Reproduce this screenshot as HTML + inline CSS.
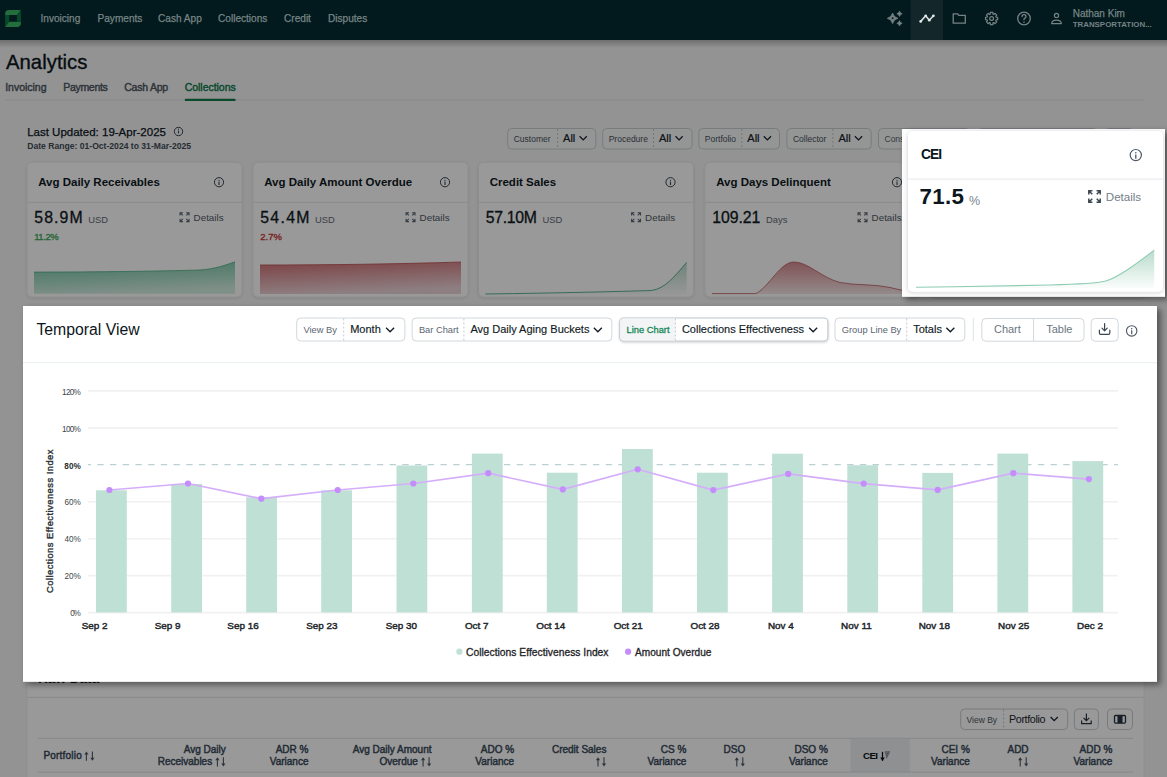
<!DOCTYPE html>
<html><head><meta charset="utf-8"><title>Analytics</title>
<style>
html,body{margin:0;padding:0;background:#959595;overflow:hidden;}
svg{display:block;font-family:"Liberation Sans",sans-serif;}
</style></head><body>
<svg width="1167" height="777" viewBox="0 0 1167 777">
<defs>
<linearGradient id="gGreen" x1="0" y1="0" x2="0.25" y2="1"><stop offset="0" stop-color="#6cc29f"/><stop offset="1" stop-color="#d2eee3"/></linearGradient>
<linearGradient id="gRed" x1="0" y1="0" x2="0.25" y2="1"><stop offset="0" stop-color="#cf6f73"/><stop offset="1" stop-color="#ecd3d8"/></linearGradient>
<linearGradient id="gLight" x1="0" y1="0" x2="0" y2="1"><stop offset="0" stop-color="#62b08e" stop-opacity="0.45"/><stop offset="1" stop-color="#62b08e" stop-opacity="0.03"/></linearGradient>
<linearGradient id="gRedL" x1="0" y1="0" x2="0" y2="1"><stop offset="0" stop-color="#d68a8e"/><stop offset="1" stop-color="#f6e6e8"/></linearGradient>
<linearGradient id="navSh" x1="0" y1="0" x2="0" y2="1"><stop offset="0" stop-color="#000" stop-opacity="0.25"/><stop offset="1" stop-color="#000" stop-opacity="0"/></linearGradient>
<filter id="shadow" x="-10%" y="-10%" width="120%" height="130%"><feDropShadow dx="0" dy="2" stdDeviation="4" flood-color="#000" flood-opacity="0.35"/></filter>
<filter id="popSh" x="-5%" y="-10%" width="110%" height="125%"><feDropShadow dx="3.5" dy="3" stdDeviation="3.2" flood-color="#000" flood-opacity="0.45"/></filter>
<filter id="ceiCard" x="-5%" y="-5%" width="110%" height="115%"><feDropShadow dx="0" dy="0.8" stdDeviation="2" flood-color="#1a2a3a" flood-opacity="0.2"/></filter>
<filter id="btnSh" x="-5%" y="-20%" width="110%" height="160%"><feDropShadow dx="0" dy="1" stdDeviation="0.8" flood-color="#000" flood-opacity="0.2"/></filter>
<filter id="cardSh" x="-10%" y="-10%" width="120%" height="130%"><feDropShadow dx="0" dy="1" stdDeviation="1.5" flood-color="#000" flood-opacity="0.12"/></filter>
</defs>
<rect x="0" y="0" width="1167" height="777" fill="#f6f6f6" />
<text x="6" y="68.5" font-size="20.3" fill="#0b1620" stroke="#0b1620" stroke-width="0.35" textLength="81.4" lengthAdjust="spacing" >Analytics</text>
<text x="5.2" y="91" font-size="10.5" fill="#4a5560" stroke="#4a5560" stroke-width="0.4" textLength="41.3" lengthAdjust="spacing" >Invoicing</text>
<text x="63.2" y="91" font-size="10.5" fill="#4a5560" stroke="#4a5560" stroke-width="0.4" textLength="44.6" lengthAdjust="spacing" >Payments</text>
<text x="124.2" y="91" font-size="10.5" fill="#4a5560" stroke="#4a5560" stroke-width="0.4" textLength="44" lengthAdjust="spacing" >Cash App</text>
<text x="184.7" y="91" font-size="10.5" fill="#0f7a4a" stroke="#0f7a4a" stroke-width="0.4" textLength="51" lengthAdjust="spacing" >Collections</text>
<line x1="5" y1="100" x2="1143.5" y2="100" stroke="#dfe3e6" stroke-width="1" />
<rect x="184.7" y="98.7" width="51" height="2.2" fill="#0f7a4a" rx="1" />
<text x="27.2" y="136" font-size="11.5" fill="#0c151d" stroke="#0c151d" stroke-width="0.25" >Last Updated: 19-Apr-2025</text>
<circle cx="178.5" cy="131.5" r="4.2" fill="none" stroke="#3a4550" stroke-width="1"/>
<path d="M178.5 130.6 v2.8" stroke="#3a4550" stroke-width="1.1"/><circle cx="178.5" cy="129.2" r="0.6" fill="#3a4550"/>
<text x="27.2" y="148.8" font-size="8.6" fill="#414b55" font-weight="bold" >Date Range: 01-Oct-2024 to 31-Mar-2025</text>
<rect x="507.7" y="128.5" width="88.09999999999997" height="20.5" fill="#f7f8f9" stroke="#c9ced3" stroke-width="1" rx="4" />
<line x1="557.6" y1="129" x2="557.6" y2="148.5" stroke="#bfc5ca" stroke-width="1" stroke-dasharray="2 2"/>
<text x="513.7" y="141.8" font-size="8.5" fill="#48525c" >Customer</text>
<text x="563.1" y="142.3" font-size="11" fill="#141e28" stroke="#141e28" stroke-width="0.2" >All</text>
<path d="M579.6 136.3 l3.6 3.6 l3.6 -3.6" fill="none" stroke="#1a242e" stroke-width="1.3"/>
<rect x="602.7" y="128.5" width="89.39999999999998" height="20.5" fill="#f7f8f9" stroke="#c9ced3" stroke-width="1" rx="4" />
<line x1="653.5" y1="129" x2="653.5" y2="148.5" stroke="#bfc5ca" stroke-width="1" stroke-dasharray="2 2"/>
<text x="608.7" y="141.8" font-size="8.5" fill="#48525c" >Procedure</text>
<text x="659.0" y="142.3" font-size="11" fill="#141e28" stroke="#141e28" stroke-width="0.2" >All</text>
<path d="M675.5 136.3 l3.6 3.6 l3.6 -3.6" fill="none" stroke="#1a242e" stroke-width="1.3"/>
<rect x="698.8" y="128.5" width="80.70000000000005" height="20.5" fill="#f7f8f9" stroke="#c9ced3" stroke-width="1" rx="4" />
<line x1="741.8" y1="129" x2="741.8" y2="148.5" stroke="#bfc5ca" stroke-width="1" stroke-dasharray="2 2"/>
<text x="704.8" y="141.8" font-size="8.5" fill="#48525c" >Portfolio</text>
<text x="747.3" y="142.3" font-size="11" fill="#141e28" stroke="#141e28" stroke-width="0.2" >All</text>
<path d="M763.8 136.3 l3.6 3.6 l3.6 -3.6" fill="none" stroke="#1a242e" stroke-width="1.3"/>
<rect x="786.9" y="128.5" width="84.30000000000007" height="20.5" fill="#f7f8f9" stroke="#c9ced3" stroke-width="1" rx="4" />
<line x1="832.9" y1="129" x2="832.9" y2="148.5" stroke="#bfc5ca" stroke-width="1" stroke-dasharray="2 2"/>
<text x="792.9" y="141.8" font-size="8.5" fill="#48525c" >Collector</text>
<text x="838.4" y="142.3" font-size="11" fill="#141e28" stroke="#141e28" stroke-width="0.2" >All</text>
<path d="M854.9 136.3 l3.6 3.6 l3.6 -3.6" fill="none" stroke="#1a242e" stroke-width="1.3"/>
<rect x="878.5" y="128.5" width="92" height="20.5" fill="#f7f8f9" stroke="#c9ced3" stroke-width="1" rx="4" />
<text x="884.5" y="141.8" font-size="8.5" fill="#5a6570" >Consolidated</text>
<rect x="977.5" y="128.5" width="120" height="20.5" fill="#f7f8f9" stroke="#c9ced3" stroke-width="1" rx="4" />
<rect x="1104.5" y="128.5" width="29" height="20.5" fill="#f7f8f9" stroke="#c9ced3" stroke-width="1" rx="4" />
<g filter="url(#cardSh)">
<rect x="27" y="162.3" width="215" height="134.7" fill="#ffffff" stroke="#e8eaed" stroke-width="0.8" rx="5" />
</g>
<text x="38.2" y="186.2" font-size="11.5" fill="#0f1a24" font-weight="bold" >Avg Daily Receivables</text>
<circle cx="219" cy="182.2" r="4.6" fill="none" stroke="#3a4550" stroke-width="1"/>
<path d="M219 181.6 v3.45" stroke="#3a4550" stroke-width="1.10"/><circle cx="219" cy="180.27" r="0.64" fill="#3a4550"/>
<line x1="27" y1="202.3" x2="242" y2="202.3" stroke="#e5e8eb" stroke-width="1" />
<text x="34.2" y="223.4" font-size="15.8" fill="#0f1a24" stroke="#0f1a24" stroke-width="0.3" textLength="48.5" lengthAdjust="spacing" >58.9M</text>
<text x="88.3" y="223.3" font-size="9.4" fill="#5f6a75" >USD</text>
<text x="34.2" y="239.7" font-size="9.5" fill="#40ad5c" stroke="#40ad5c" stroke-width="0.35" textLength="24.6" lengthAdjust="spacing" >11.2%</text>
<path d="M182.95 212.70 H180.10 V215.55 M180.10 212.70 L182.81 215.41" fill="none" stroke="#5a6570" stroke-width="1.1"/>
<path d="M186.15 212.70 H189.00 V215.55 M189.00 212.70 L186.29 215.41" fill="none" stroke="#5a6570" stroke-width="1.1"/>
<path d="M182.95 221.60 H180.10 V218.75 M180.10 221.60 L182.81 218.89" fill="none" stroke="#5a6570" stroke-width="1.1"/>
<path d="M186.15 221.60 H189.00 V218.75 M189.00 221.60 L186.29 218.89" fill="none" stroke="#5a6570" stroke-width="1.1"/>
<text x="193.6" y="221" font-size="9.8" fill="#4f5a65" textLength="30" lengthAdjust="spacing" >Details</text>
<g filter="url(#cardSh)">
<rect x="253" y="162.3" width="215" height="134.7" fill="#ffffff" stroke="#e8eaed" stroke-width="0.8" rx="5" />
</g>
<text x="264.2" y="186.2" font-size="11.5" fill="#0f1a24" font-weight="bold" >Avg Daily Amount Overdue</text>
<circle cx="445" cy="182.2" r="4.6" fill="none" stroke="#3a4550" stroke-width="1"/>
<path d="M445 181.6 v3.45" stroke="#3a4550" stroke-width="1.10"/><circle cx="445" cy="180.27" r="0.64" fill="#3a4550"/>
<line x1="253" y1="202.3" x2="468" y2="202.3" stroke="#e5e8eb" stroke-width="1" />
<text x="260.2" y="223.4" font-size="15.8" fill="#0f1a24" stroke="#0f1a24" stroke-width="0.3" textLength="49.3" lengthAdjust="spacing" >54.4M</text>
<text x="315.1" y="223.3" font-size="9.4" fill="#5f6a75" >USD</text>
<text x="260.2" y="239.7" font-size="9.5" fill="#c93c3a" stroke="#c93c3a" stroke-width="0.35" textLength="21.8" lengthAdjust="spacing" >2.7%</text>
<path d="M408.95 212.70 H406.10 V215.55 M406.10 212.70 L408.81 215.41" fill="none" stroke="#5a6570" stroke-width="1.1"/>
<path d="M412.15 212.70 H415.00 V215.55 M415.00 212.70 L412.29 215.41" fill="none" stroke="#5a6570" stroke-width="1.1"/>
<path d="M408.95 221.60 H406.10 V218.75 M406.10 221.60 L408.81 218.89" fill="none" stroke="#5a6570" stroke-width="1.1"/>
<path d="M412.15 221.60 H415.00 V218.75 M415.00 221.60 L412.29 218.89" fill="none" stroke="#5a6570" stroke-width="1.1"/>
<text x="419.6" y="221" font-size="9.8" fill="#4f5a65" textLength="30" lengthAdjust="spacing" >Details</text>
<g filter="url(#cardSh)">
<rect x="478.5" y="162.3" width="215" height="134.7" fill="#ffffff" stroke="#e8eaed" stroke-width="0.8" rx="5" />
</g>
<text x="489.7" y="186.2" font-size="11.5" fill="#0f1a24" font-weight="bold" >Credit Sales</text>
<circle cx="670.5" cy="182.2" r="4.6" fill="none" stroke="#3a4550" stroke-width="1"/>
<path d="M670.5 181.6 v3.45" stroke="#3a4550" stroke-width="1.10"/><circle cx="670.5" cy="180.27" r="0.64" fill="#3a4550"/>
<line x1="478.5" y1="202.3" x2="693.5" y2="202.3" stroke="#e5e8eb" stroke-width="1" />
<text x="485.7" y="223.4" font-size="15.8" fill="#0f1a24" stroke="#0f1a24" stroke-width="0.3" textLength="51.3" lengthAdjust="spacing" >57.10M</text>
<text x="542.6" y="223.3" font-size="9.4" fill="#5f6a75" >USD</text>
<path d="M634.45 212.70 H631.60 V215.55 M631.60 212.70 L634.31 215.41" fill="none" stroke="#5a6570" stroke-width="1.1"/>
<path d="M637.65 212.70 H640.50 V215.55 M640.50 212.70 L637.79 215.41" fill="none" stroke="#5a6570" stroke-width="1.1"/>
<path d="M634.45 221.60 H631.60 V218.75 M631.60 221.60 L634.31 218.89" fill="none" stroke="#5a6570" stroke-width="1.1"/>
<path d="M637.65 221.60 H640.50 V218.75 M640.50 221.60 L637.79 218.89" fill="none" stroke="#5a6570" stroke-width="1.1"/>
<text x="645.1" y="221" font-size="9.8" fill="#4f5a65" textLength="30" lengthAdjust="spacing" >Details</text>
<g filter="url(#cardSh)">
<rect x="705" y="162.3" width="215" height="134.7" fill="#ffffff" stroke="#e8eaed" stroke-width="0.8" rx="5" />
</g>
<text x="716.2" y="186.2" font-size="11.5" fill="#0f1a24" font-weight="bold" >Avg Days Delinquent</text>
<circle cx="897" cy="182.2" r="4.6" fill="none" stroke="#3a4550" stroke-width="1"/>
<path d="M897 181.6 v3.45" stroke="#3a4550" stroke-width="1.10"/><circle cx="897" cy="180.27" r="0.64" fill="#3a4550"/>
<line x1="705" y1="202.3" x2="920" y2="202.3" stroke="#e5e8eb" stroke-width="1" />
<text x="712.2" y="223.4" font-size="15.8" fill="#0f1a24" stroke="#0f1a24" stroke-width="0.3" textLength="48.2" lengthAdjust="spacing" >109.21</text>
<text x="766.0000000000001" y="223.3" font-size="9.4" fill="#5f6a75" >Days</text>
<path d="M860.95 212.70 H858.10 V215.55 M858.10 212.70 L860.81 215.41" fill="none" stroke="#5a6570" stroke-width="1.1"/>
<path d="M864.15 212.70 H867.00 V215.55 M867.00 212.70 L864.29 215.41" fill="none" stroke="#5a6570" stroke-width="1.1"/>
<path d="M860.95 221.60 H858.10 V218.75 M858.10 221.60 L860.81 218.89" fill="none" stroke="#5a6570" stroke-width="1.1"/>
<path d="M864.15 221.60 H867.00 V218.75 M867.00 221.60 L864.29 218.89" fill="none" stroke="#5a6570" stroke-width="1.1"/>
<text x="871.6" y="221" font-size="9.8" fill="#4f5a65" textLength="30" lengthAdjust="spacing" >Details</text>
<g filter="url(#cardSh)">
<rect x="931" y="162.3" width="215" height="134.7" fill="#ffffff" stroke="#e8eaed" stroke-width="0.8" rx="5" />
</g>
<text x="942.2" y="186.2" font-size="11.5" fill="#0f1a24" font-weight="bold" >CEI</text>
<circle cx="1123" cy="182.2" r="4.6" fill="none" stroke="#3a4550" stroke-width="1"/>
<path d="M1123 181.6 v3.45" stroke="#3a4550" stroke-width="1.10"/><circle cx="1123" cy="180.27" r="0.64" fill="#3a4550"/>
<line x1="931" y1="202.3" x2="1146" y2="202.3" stroke="#e5e8eb" stroke-width="1" />
<text x="938.2" y="223.4" font-size="15.8" fill="#0f1a24" stroke="#0f1a24" stroke-width="0.3" textLength="36" lengthAdjust="spacing" >71.5</text>
<text x="979.8000000000001" y="223.3" font-size="9.4" fill="#5f6a75" >%</text>
<path d="M1086.95 212.70 H1084.10 V215.55 M1084.10 212.70 L1086.81 215.41" fill="none" stroke="#5a6570" stroke-width="1.1"/>
<path d="M1090.15 212.70 H1093.00 V215.55 M1093.00 212.70 L1090.29 215.41" fill="none" stroke="#5a6570" stroke-width="1.1"/>
<path d="M1086.95 221.60 H1084.10 V218.75 M1084.10 221.60 L1086.81 218.89" fill="none" stroke="#5a6570" stroke-width="1.1"/>
<path d="M1090.15 221.60 H1093.00 V218.75 M1093.00 221.60 L1090.29 218.89" fill="none" stroke="#5a6570" stroke-width="1.1"/>
<text x="1097.6" y="221" font-size="9.8" fill="#4f5a65" textLength="30" lengthAdjust="spacing" >Details</text>
<path d="M34 272.1 C 100 272, 160 271.2, 200 270 C 215 269, 226 265, 235 261.8 L235 293.7 L34 293.7 Z" fill="url(#gGreen)"/>
<path d="M34 272.1 C 100 272, 160 271.2, 200 270 C 215 269, 226 265, 235 261.8" fill="none" stroke="#4fae88" stroke-width="0.8"/>
<path d="M260 265 C 330 265, 400 264, 461 262 L461 294 L260 294 Z" fill="url(#gRed)"/>
<path d="M260 265 C 330 265, 400 264, 461 262" fill="none" stroke="#c05a5e" stroke-width="0.9"/>
<path d="M485.4 294 C 560 293, 620 291.5, 651.3 290.5 C 665 289, 675 276, 686.7 262.3 L686.7 294.2 L485.4 294.2 Z" fill="url(#gLight)"/>
<path d="M485.4 294 C 560 293, 620 291.5, 651.3 290.5 C 665 289, 675 276, 686.7 262.3" fill="none" stroke="#4aa884" stroke-width="0.9"/>
<path d="M712 293.6 L756 293.6 C 770 286, 780 262, 794 262 C 808 262, 822 278, 840 282.5 C 855 285.5, 875 284, 890 287.5 C 898 289.5, 905 291, 920 293.5 L920 294 L712 294 Z" fill="url(#gRedL)"/>
<path d="M712 293.6 L756 293.6 C 770 286, 780 262, 794 262 C 808 262, 822 278, 840 282.5 C 855 285.5, 875 284, 890 287.5 C 898 289.5, 905 291, 920 293.5" fill="none" stroke="#b85a5e" stroke-width="0.8"/>
<rect x="26.8" y="665" width="1117.3" height="130" fill="#ffffff" stroke="#e8eaed" stroke-width="0.8" rx="5" />
<text x="38" y="683" font-size="13.6" fill="#0f1a24" font-weight="bold" >Raw Data</text>
<line x1="26.8" y1="697.3" x2="1144" y2="697.3" stroke="#e3e6e9" stroke-width="1" />
<rect x="960.7" y="709" width="107" height="20.6" fill="#ffffff" stroke="#c9ced3" stroke-width="1" rx="4" />
<line x1="1003.6" y1="709.5" x2="1003.6" y2="729" stroke="#bfc5ca" stroke-width="1" stroke-dasharray="2 2"/>
<text x="966.5" y="722.5" font-size="8.5" fill="#4a5560" >View By</text>
<text x="1009" y="723" font-size="10.8" fill="#1a242e" textLength="36.4" lengthAdjust="spacing" >Portfolio</text>
<path d="M1050.6 717 l3.6 3.6 l3.6 -3.6" fill="none" stroke="#1a242e" stroke-width="1.3"/>
<rect x="1074.4" y="709" width="24" height="20.6" fill="#ffffff" stroke="#c9ced3" stroke-width="1" rx="4" />
<path d="M1086.4 713.5 v7 M1083.5 717.8 l2.9 2.9 l2.9 -2.9 M1081.6 720.5 v3.2 h9.6 v-3.2" fill="none" stroke="#2a3540" stroke-width="1.2"/>
<rect x="1107.5" y="709" width="25" height="20.6" fill="#ffffff" stroke="#c9ced3" stroke-width="1" rx="4" />
<rect x="1114.5" y="715.5" width="11" height="7.6" fill="none" stroke="#2a3540" stroke-width="1.3" rx="1" />
<rect x="1117.5" y="715.5" width="5" height="7.6" fill="#2a3540" />
<line x1="37.9" y1="738.3" x2="1133" y2="738.3" stroke="#dde1e5" stroke-width="1" />
<rect x="850.5" y="738.8" width="59.3" height="33" fill="#eef0f2" />
<line x1="37.9" y1="772.1" x2="1133" y2="772.1" stroke="#dde1e5" stroke-width="1" />
<text x="43.4" y="758.9" font-size="10" fill="#3b4b5c" stroke="#3b4b5c" stroke-width="0.45" textLength="38.3" lengthAdjust="spacing" >Portfolio</text>
<path d="M86.39999999999999 753.1 V760.8" stroke="#4d5863" stroke-width="1.1"/>
<path d="M84.3 754.6 L86.39999999999999 751.6 L88.49999999999999 754.6 Z" fill="#4d5863"/>
<path d="M92.39999999999999 751.6 V759.3" stroke="#4d5863" stroke-width="1.1"/>
<path d="M90.3 757.8 L92.39999999999999 760.8 L94.49999999999999 757.8 Z" fill="#4d5863"/>
<text x="225.8" y="752.9" font-size="10" fill="#3b4b5c" stroke="#3b4b5c" stroke-width="0.45" text-anchor="end" >Avg Daily</text>
<text x="212.20000000000002" y="764.5" font-size="10" fill="#3b4b5c" stroke="#3b4b5c" stroke-width="0.45" text-anchor="end" >Receivables</text>
<path d="M217.4 758.7 V766.4" stroke="#4d5863" stroke-width="1.1"/>
<path d="M215.3 760.2 L217.4 757.2 L219.5 760.2 Z" fill="#4d5863"/>
<path d="M223.4 757.2 V764.9" stroke="#4d5863" stroke-width="1.1"/>
<path d="M221.3 763.4 L223.4 766.4 L225.5 763.4 Z" fill="#4d5863"/>
<text x="308.5" y="752.9" font-size="10" fill="#3b4b5c" stroke="#3b4b5c" stroke-width="0.45" text-anchor="end" >ADR %</text>
<text x="308.5" y="764.5" font-size="10" fill="#3b4b5c" stroke="#3b4b5c" stroke-width="0.45" text-anchor="end" >Variance</text>
<text x="431.5" y="752.9" font-size="10" fill="#3b4b5c" stroke="#3b4b5c" stroke-width="0.45" text-anchor="end" >Avg Daily Amount</text>
<text x="417.9" y="764.5" font-size="10" fill="#3b4b5c" stroke="#3b4b5c" stroke-width="0.45" text-anchor="end" >Overdue</text>
<path d="M423.1 758.7 V766.4" stroke="#4d5863" stroke-width="1.1"/>
<path d="M421.0 760.2 L423.1 757.2 L425.20000000000005 760.2 Z" fill="#4d5863"/>
<path d="M429.1 757.2 V764.9" stroke="#4d5863" stroke-width="1.1"/>
<path d="M427.0 763.4 L429.1 766.4 L431.20000000000005 763.4 Z" fill="#4d5863"/>
<text x="514.1" y="752.9" font-size="10" fill="#3b4b5c" stroke="#3b4b5c" stroke-width="0.45" text-anchor="end" >ADO %</text>
<text x="514.1" y="764.5" font-size="10" fill="#3b4b5c" stroke="#3b4b5c" stroke-width="0.45" text-anchor="end" >Variance</text>
<text x="606.4" y="752.9" font-size="10" fill="#3b4b5c" stroke="#3b4b5c" stroke-width="0.45" text-anchor="end" >Credit Sales</text>
<path d="M598.0 758.7 V766.4" stroke="#4d5863" stroke-width="1.1"/>
<path d="M595.9 760.2 L598.0 757.2 L600.1 760.2 Z" fill="#4d5863"/>
<path d="M604.0 757.2 V764.9" stroke="#4d5863" stroke-width="1.1"/>
<path d="M601.9 763.4 L604.0 766.4 L606.1 763.4 Z" fill="#4d5863"/>
<text x="686.3" y="752.9" font-size="10" fill="#3b4b5c" stroke="#3b4b5c" stroke-width="0.45" text-anchor="end" >CS %</text>
<text x="686.3" y="764.5" font-size="10" fill="#3b4b5c" stroke="#3b4b5c" stroke-width="0.45" text-anchor="end" >Variance</text>
<text x="745.2" y="752.9" font-size="10" fill="#3b4b5c" stroke="#3b4b5c" stroke-width="0.45" text-anchor="end" >DSO</text>
<path d="M736.8000000000001 758.7 V766.4" stroke="#4d5863" stroke-width="1.1"/>
<path d="M734.7 760.2 L736.8000000000001 757.2 L738.9000000000001 760.2 Z" fill="#4d5863"/>
<path d="M742.8000000000001 757.2 V764.9" stroke="#4d5863" stroke-width="1.1"/>
<path d="M740.7 763.4 L742.8000000000001 766.4 L744.9000000000001 763.4 Z" fill="#4d5863"/>
<text x="827.8" y="752.9" font-size="10" fill="#3b4b5c" stroke="#3b4b5c" stroke-width="0.45" text-anchor="end" >DSO %</text>
<text x="827.8" y="764.5" font-size="10" fill="#3b4b5c" stroke="#3b4b5c" stroke-width="0.45" text-anchor="end" >Variance</text>
<text x="969.8" y="752.9" font-size="10" fill="#3b4b5c" stroke="#3b4b5c" stroke-width="0.45" text-anchor="end" >CEI %</text>
<text x="969.8" y="764.5" font-size="10" fill="#3b4b5c" stroke="#3b4b5c" stroke-width="0.45" text-anchor="end" >Variance</text>
<text x="1028.6" y="752.9" font-size="10" fill="#3b4b5c" stroke="#3b4b5c" stroke-width="0.45" text-anchor="end" >ADD</text>
<path d="M1020.1999999999999 758.7 V766.4" stroke="#4d5863" stroke-width="1.1"/>
<path d="M1018.0999999999999 760.2 L1020.1999999999999 757.2 L1022.3 760.2 Z" fill="#4d5863"/>
<path d="M1026.1999999999998 757.2 V764.9" stroke="#4d5863" stroke-width="1.1"/>
<path d="M1024.1 763.4 L1026.1999999999998 766.4 L1028.2999999999997 763.4 Z" fill="#4d5863"/>
<text x="1112.3" y="752.9" font-size="10" fill="#3b4b5c" stroke="#3b4b5c" stroke-width="0.45" text-anchor="end" >ADD %</text>
<text x="1112.3" y="764.5" font-size="10" fill="#3b4b5c" stroke="#3b4b5c" stroke-width="0.45" text-anchor="end" >Variance</text>
<text x="863" y="759" font-size="9.6" fill="#0b1218" textLength="14.9" lengthAdjust="spacing" font-weight="bold" >CEI</text>
<path d="M882.5 751.8 V760.8" stroke="#0b1218" stroke-width="1.25"/><path d="M880.2 757.5 L882.5 761 L884.8 757.5 Z" fill="#0b1218"/>
<path d="M884.8 752 H890 M885.3 753.9 H889.2 M885.8 755.8 H888.2 M886.3 757.6 H887.2" stroke="#5a636b" stroke-width="1.2"/>
<rect x="0" y="0" width="1167" height="777" fill="#000" fill-opacity="0.4"/>
<rect x="0" y="40" width="1167" height="8" fill="url(#navSh)" />
<rect x="0" y="0" width="1167" height="40" fill="#02191d" />
<path d="M5.2 15.1 V13.6 Q5.2 10 9 10 H20.9 L17 15.1 Z" fill="#236e3c"/>
<path d="M5.2 15.1 H9.2 V21.7 L5.2 26.9 Z" fill="#064b29"/>
<path d="M5.2 26.9 L9.2 21.7 H20.9 V23.3 Q20.9 26.9 17.1 26.9 Z" fill="#236e3c"/>
<path d="M17 15.1 L20.9 10 V21.7 H17 Z" fill="#064b29"/>
<text x="40.5" y="22" font-size="10.1" fill="#778586" stroke="#778586" stroke-width="0.25" >Invoicing</text>
<text x="97.5" y="22" font-size="10.1" fill="#778586" stroke="#778586" stroke-width="0.25" >Payments</text>
<text x="158" y="22" font-size="10.1" fill="#778586" stroke="#778586" stroke-width="0.25" >Cash App</text>
<text x="218" y="22" font-size="10.1" fill="#778586" stroke="#778586" stroke-width="0.25" >Collections</text>
<text x="284" y="22" font-size="10.1" fill="#778586" stroke="#778586" stroke-width="0.25" >Credit</text>
<text x="328" y="22" font-size="10.1" fill="#778586" stroke="#778586" stroke-width="0.25" >Disputes</text>
<rect x="910.7" y="0" width="32.4" height="40" fill="#13272b" />
<path d="M892.6 13.0 Q893.66 17.240000000000002 897.9 18.3 Q893.66 19.36 892.6 23.6 Q891.5400000000001 19.36 887.3000000000001 18.3 Q891.5400000000001 17.240000000000002 892.6 13.0Z" fill="#768384" stroke="#768384" stroke-width="0.8" stroke-linejoin="round"/>
<circle cx="892.6" cy="18.3" r="1" fill="#02191d"/>
<path d="M899.5 11.100000000000001 Q900.04 13.260000000000002 902.2 13.8 Q900.04 14.34 899.5 16.5 Q898.96 14.34 896.8 13.8 Q898.96 13.260000000000002 899.5 11.100000000000001Z" fill="#768384" stroke="#768384" stroke-width="0.6" stroke-linejoin="round"/>
<path d="M899.5 20.6 Q900.04 22.76 902.2 23.3 Q900.04 23.84 899.5 26.0 Q898.96 23.84 896.8 23.3 Q898.96 22.76 899.5 20.6Z" fill="#768384" stroke="#768384" stroke-width="0.6" stroke-linejoin="round"/>
<path d="M920.7 21.4 L925.7 15.8 L929.3 20.2 L933.4 15.8" fill="none" stroke="#d9dfdf" stroke-width="1.6" stroke-linecap="round" stroke-linejoin="round"/>
<circle cx="920.7" cy="21.4" r="1.35" fill="#e3e8e8"/>
<circle cx="925.7" cy="15.8" r="1.35" fill="#e3e8e8"/>
<circle cx="929.3" cy="20.2" r="1.35" fill="#e3e8e8"/>
<circle cx="933.4" cy="15.8" r="1.35" fill="#e3e8e8"/>
<path d="M953.2 13.8 h4.3 l1.4 1.6 h6.4 v7.8 h-12.1z" fill="none" stroke="#768384" stroke-width="1.3" stroke-linejoin="round"/>
<circle cx="991.6" cy="18.5" r="1.9" fill="none" stroke="#768384" stroke-width="1.2"/>
<path d="M995.99 17.14 L997.68 17.27 L997.68 19.73 L995.99 19.86 L995.67 20.65 L996.77 21.93 L995.03 23.67 L993.75 22.57 L992.96 22.89 L992.83 24.58 L990.37 24.58 L990.24 22.89 L989.45 22.57 L988.17 23.67 L986.43 21.93 L987.53 20.65 L987.21 19.86 L985.52 19.73 L985.52 17.27 L987.21 17.14 L987.53 16.35 L986.43 15.07 L988.17 13.33 L989.45 14.43 L990.24 14.11 L990.37 12.42 L992.83 12.42 L992.96 14.11 L993.75 14.43 L995.03 13.33 L996.77 15.07 L995.67 16.35Z" fill="none" stroke="#768384" stroke-width="1.2" stroke-linejoin="round"/>
<circle cx="1024" cy="18.5" r="6.3" fill="none" stroke="#768384" stroke-width="1.3"/>
<path d="M1022 16.6 q0-2 2-2 q2 0 2 1.8 q0 1.2-1.3 1.7 q-0.7 0.3-0.7 1.2 v0.5" fill="none" stroke="#768384" stroke-width="1.3" stroke-linecap="round"/>
<circle cx="1024" cy="22.3" r="0.8" fill="#768384"/>
<circle cx="1056.5" cy="15.4" r="2.1" fill="none" stroke="#768384" stroke-width="1.2"/>
<path d="M1051.6 23.6 q0.4-3.4 4.9-3.4 q4.5 0 4.9 3.4 z" fill="none" stroke="#768384" stroke-width="1.2" stroke-linejoin="round"/>
<text x="1072.7" y="16.5" font-size="10" fill="#778586" stroke="#778586" stroke-width="0.25" >Nathan Kim</text>
<text x="1072.7" y="27.4" font-size="7.9" fill="#748283" font-weight="bold" >TRANSPORTATION...</text>
<g filter="url(#popSh)">
<rect x="902" y="129" width="263" height="167.8" fill="#fdfdfd" />
</g>
<g filter="url(#ceiCard)">
<rect x="908" y="131" width="255" height="160.7" fill="#ffffff" rx="5" />
</g>
<text x="921" y="159.4" font-size="13.8" fill="#0b1620" textLength="21.2" lengthAdjust="spacing" font-weight="bold" >CEI</text>
<circle cx="1135.8" cy="155.1" r="5.6" fill="none" stroke="#4a5a6a" stroke-width="1.2"/>
<path d="M1135.8 154.5 v4.20" stroke="#4a5a6a" stroke-width="1.32"/><circle cx="1135.8" cy="152.75" r="0.78" fill="#4a5a6a"/>
<line x1="908" y1="179.1" x2="1163" y2="179.1" stroke="#e4e7ea" stroke-width="1" />
<text x="919.6" y="204" font-size="22.3" fill="#0b1620" textLength="44.2" lengthAdjust="spacing" font-weight="bold" >71.5</text>
<text x="969" y="204.5" font-size="12.5" fill="#7a8590" >%</text>
<path d="M1092.45 190.80 H1088.80 V194.45 M1088.80 190.80 L1092.27 194.27" fill="none" stroke="#3d4853" stroke-width="1.5"/>
<path d="M1096.55 190.80 H1100.20 V194.45 M1100.20 190.80 L1096.73 194.27" fill="none" stroke="#3d4853" stroke-width="1.5"/>
<path d="M1092.45 202.20 H1088.80 V198.55 M1088.80 202.20 L1092.27 198.73" fill="none" stroke="#3d4853" stroke-width="1.5"/>
<path d="M1096.55 202.20 H1100.20 V198.55 M1100.20 202.20 L1096.73 198.73" fill="none" stroke="#3d4853" stroke-width="1.5"/>
<text x="1105.8" y="200.6" font-size="11.6" fill="#737e89" textLength="35.3" lengthAdjust="spacing" >Details</text>
<path d="M916 286.9 C 960 286.8, 1000 286.2, 1050 285 C 1080 284.2, 1097 283.2, 1105 281.3 C 1111 279.8, 1117 276.5, 1127 270 C 1137 263.5, 1146 256.5, 1154.2 250.1 L1154.2 288 L916 288 Z" fill="url(#gLight)"/>
<path d="M916 287.2 C 960 286.8, 1000 286.2, 1050 285 C 1080 284.2, 1097 283.2, 1105 281.3 C 1111 279.8, 1117 276.5, 1127 270 C 1137 263.5, 1146 256.5, 1154.2 250.1" fill="none" stroke="#8fcdb3" stroke-width="1.1"/>
<g filter="url(#popSh)">
<rect x="23" y="306" width="1134" height="375.8" fill="#ffffff" />
</g>
<text x="36.4" y="335" font-size="15.8" fill="#0b1620" >Temporal View</text>
<line x1="23" y1="362.7" x2="1157" y2="362.7" stroke="#eef1f1" stroke-width="1.2" />
<rect x="296.7" y="318" width="108.19999999999999" height="23" fill="#ffffff" stroke="#d3d8dc" stroke-width="1" rx="4" />
<line x1="343.7" y1="318.5" x2="343.7" y2="340.5" stroke="#c5cbd0" stroke-width="1" stroke-dasharray="2 2"/>
<text x="303.5" y="332.7" font-size="9.3" fill="#5a6570" >View By</text>
<text x="350.2" y="333.2" font-size="11" fill="#0f1a24" stroke="#0f1a24" stroke-width="0.15" >Month</text>
<rect x="412.1" y="318" width="199.79999999999995" height="23" fill="#ffffff" stroke="#d3d8dc" stroke-width="1" rx="4" />
<line x1="463.9" y1="318.5" x2="463.9" y2="340.5" stroke="#c5cbd0" stroke-width="1" stroke-dasharray="2 2"/>
<text x="418.90000000000003" y="332.7" font-size="9.3" fill="#5a6570" >Bar Chart</text>
<text x="470.4" y="333.2" font-size="11" fill="#0f1a24" stroke="#0f1a24" stroke-width="0.15" >Avg Daily Aging Buckets</text>
<g filter="url(#btnSh)">
<rect x="619.8" y="318" width="208.10000000000002" height="23" fill="#ffffff" stroke="#bfc6cc" stroke-width="1.1" rx="4" />
</g>
<path d="M623.8 318.5 H675.4 V340.5 H623.8 Q620.3 340.5 620.3 337 V322 Q620.3 318.5 623.8 318.5Z" fill="#f3f4f5"/>
<line x1="675.4" y1="318.5" x2="675.4" y2="340.5" stroke="#c5cbd0" stroke-width="1" stroke-dasharray="2 2"/>
<text x="626.5999999999999" y="332.7" font-size="9.3" fill="#168858" stroke="#168858" stroke-width="0.3" >Line Chart</text>
<text x="681.9" y="333.2" font-size="11" fill="#0f1a24" stroke="#0f1a24" stroke-width="0.15" >Collections Effectiveness</text>
<rect x="835.0" y="318" width="129.79999999999995" height="23" fill="#ffffff" stroke="#d3d8dc" stroke-width="1" rx="4" />
<line x1="906.7" y1="318.5" x2="906.7" y2="340.5" stroke="#c5cbd0" stroke-width="1" stroke-dasharray="2 2"/>
<text x="841.8" y="332.7" font-size="9.3" fill="#5a6570" >Group Line By</text>
<text x="913.2" y="333.2" font-size="11" fill="#0f1a24" stroke="#0f1a24" stroke-width="0.15" >Totals</text>
<path d="M386.1 327.8 l4 4 l4 -4" fill="none" stroke="#0f1a24" stroke-width="1.3"/>
<path d="M593.85 327.8 l4 4 l4 -4" fill="none" stroke="#0f1a24" stroke-width="1.3"/>
<path d="M809.15 327.8 l4 4 l4 -4" fill="none" stroke="#0f1a24" stroke-width="1.3"/>
<path d="M946.35 327.8 l4 4 l4 -4" fill="none" stroke="#0f1a24" stroke-width="1.3"/>
<line x1="973.3" y1="318" x2="973.3" y2="341" stroke="#dfe3e6" stroke-width="1" />
<rect x="981.8" y="318.5" width="102.2" height="22.7" fill="#ffffff" stroke="#d3d8dc" stroke-width="1" rx="4" />
<line x1="1033.6" y1="318.5" x2="1033.6" y2="341.2" stroke="#d3d8dc" stroke-width="1" />
<text x="1007.4" y="333.1" font-size="11" fill="#6b7680" text-anchor="middle" >Chart</text>
<text x="1059.3" y="333.1" font-size="11" fill="#6b7680" text-anchor="middle" >Table</text>
<rect x="1091.2" y="318.5" width="27" height="22.7" fill="#ffffff" stroke="#d3d8dc" stroke-width="1" rx="4" />
<path d="M1104.6 323.6 v7 M1102 328.2 l2.6 2.6 l2.6 -2.6 M1099.4 330.2 v2.8 q0 1.3 1.3 1.3 h7.8 q1.3 0 1.3 -1.3 v-2.8" fill="none" stroke="#3a4550" stroke-width="1.2" stroke-linecap="round" stroke-linejoin="round"/>
<circle cx="1131.7" cy="330.9" r="5.2" fill="none" stroke="#4a5560" stroke-width="1.1"/>
<path d="M1131.7 330.29999999999995 v3.90" stroke="#4a5560" stroke-width="1.21"/><circle cx="1131.7" cy="328.72" r="0.73" fill="#4a5560"/>
<line x1="88" y1="612.6" x2="1118" y2="612.6" stroke="#f1f1f1" stroke-width="1.6" />
<line x1="88" y1="575.6500000000001" x2="1118" y2="575.6500000000001" stroke="#f1f1f1" stroke-width="1.6" />
<line x1="88" y1="538.7" x2="1118" y2="538.7" stroke="#f1f1f1" stroke-width="1.6" />
<line x1="88" y1="501.75" x2="1118" y2="501.75" stroke="#f1f1f1" stroke-width="1.6" />
<line x1="88" y1="427.84999999999997" x2="1118" y2="427.84999999999997" stroke="#f1f1f1" stroke-width="1.6" />
<line x1="88" y1="390.9" x2="1118" y2="390.9" stroke="#f1f1f1" stroke-width="1.6" />
<text x="80.9" y="616.3" font-size="8.2" fill="#41474c" textLength="10.6" lengthAdjust="spacing" text-anchor="end" >0%</text>
<text x="80.9" y="579.3499999999999" font-size="8.2" fill="#41474c" textLength="16.4" lengthAdjust="spacing" text-anchor="end" >20%</text>
<text x="80.9" y="542.4" font-size="8.2" fill="#41474c" textLength="16.4" lengthAdjust="spacing" text-anchor="end" >40%</text>
<text x="80.9" y="505.44999999999993" font-size="8.2" fill="#41474c" textLength="16.4" lengthAdjust="spacing" text-anchor="end" >60%</text>
<text x="80.9" y="468.49999999999994" font-size="8.2" fill="#2a2f33" textLength="16.6" lengthAdjust="spacing" font-weight="bold" text-anchor="end" >80%</text>
<text x="80.9" y="431.54999999999995" font-size="8.2" fill="#41474c" textLength="18.8" lengthAdjust="spacing" text-anchor="end" >100%</text>
<text x="80.9" y="394.5999999999999" font-size="8.2" fill="#41474c" textLength="18.8" lengthAdjust="spacing" text-anchor="end" >120%</text>
<text x="0" y="0" font-size="9.4" fill="#2a2f33" stroke="#2a2f33" stroke-width="0.35" textLength="143.5" lengthAdjust="spacing" text-anchor="middle" transform="translate(53.2 521.3) rotate(-90)">Collections Effectiveness Index</text>
<line x1="88" y1="464.6" x2="1118" y2="464.6" stroke="#b9d1d2" stroke-width="1.25" stroke-dasharray="6.355 6.355" stroke-dashoffset="3.41"/>
<rect x="96" y="490.3" width="30.8" height="122.1" fill="#bfe0d4" />
<rect x="171.2" y="483.9" width="30.8" height="128.5" fill="#bfe0d4" />
<rect x="246.2" y="497.3" width="30.8" height="115.1" fill="#bfe0d4" />
<rect x="321.2" y="490.3" width="30.8" height="122.1" fill="#bfe0d4" />
<rect x="396.5" y="465.5" width="30.8" height="146.9" fill="#bfe0d4" />
<rect x="471.9" y="453.6" width="30.8" height="158.8" fill="#bfe0d4" />
<rect x="546.8" y="472.7" width="30.8" height="139.7" fill="#bfe0d4" />
<rect x="622" y="449.0" width="30.8" height="163.4" fill="#bfe0d4" />
<rect x="697" y="472.7" width="30.8" height="139.7" fill="#bfe0d4" />
<rect x="772.1" y="453.7" width="30.8" height="158.7" fill="#bfe0d4" />
<rect x="847.3" y="465.2" width="30.8" height="147.2" fill="#bfe0d4" />
<rect x="922.3" y="472.9" width="30.8" height="139.5" fill="#bfe0d4" />
<rect x="997.4" y="453.6" width="30.8" height="158.8" fill="#bfe0d4" />
<rect x="1072.4" y="461.1" width="30.8" height="151.3" fill="#bfe0d4" />
<path d="M109.4 490.0 L188.0 483.5 L261.3 498.7 L337.7 490.0 L413.3 483.5 L488.2 473.2 L562.8 489.4 L637.7 469.3 L713.3 490.1 L788.2 473.9 L863.7 483.6 L937.7 489.9 L1013.3 473.2 L1088.9 479.1" fill="none" stroke="#d4aefa" stroke-width="1.7" stroke-linejoin="round"/>
<circle cx="109.4" cy="490.0" r="3.1" fill="#c48dfb"/>
<circle cx="188.0" cy="483.5" r="3.1" fill="#c48dfb"/>
<circle cx="261.3" cy="498.7" r="3.1" fill="#c48dfb"/>
<circle cx="337.7" cy="490.0" r="3.1" fill="#c48dfb"/>
<circle cx="413.3" cy="483.5" r="3.1" fill="#c48dfb"/>
<circle cx="488.2" cy="473.2" r="3.1" fill="#c48dfb"/>
<circle cx="562.8" cy="489.4" r="3.1" fill="#c48dfb"/>
<circle cx="637.7" cy="469.3" r="3.1" fill="#c48dfb"/>
<circle cx="713.3" cy="490.1" r="3.1" fill="#c48dfb"/>
<circle cx="788.2" cy="473.9" r="3.1" fill="#c48dfb"/>
<circle cx="863.7" cy="483.6" r="3.1" fill="#c48dfb"/>
<circle cx="937.7" cy="489.9" r="3.1" fill="#c48dfb"/>
<circle cx="1013.3" cy="473.2" r="3.1" fill="#c48dfb"/>
<circle cx="1088.9" cy="479.1" r="3.1" fill="#c48dfb"/>
<text x="94.7" y="628.7" font-size="9.9" fill="#22272b" stroke="#22272b" stroke-width="0.45" text-anchor="middle" >Sep 2</text>
<text x="167.6" y="628.7" font-size="9.9" fill="#22272b" stroke="#22272b" stroke-width="0.45" text-anchor="middle" >Sep 9</text>
<text x="243" y="628.7" font-size="9.9" fill="#22272b" stroke="#22272b" stroke-width="0.45" text-anchor="middle" >Sep 16</text>
<text x="321.9" y="628.7" font-size="9.9" fill="#22272b" stroke="#22272b" stroke-width="0.45" text-anchor="middle" >Sep 23</text>
<text x="401.4" y="628.7" font-size="9.9" fill="#22272b" stroke="#22272b" stroke-width="0.45" text-anchor="middle" >Sep 30</text>
<text x="476.7" y="628.7" font-size="9.9" fill="#22272b" stroke="#22272b" stroke-width="0.45" text-anchor="middle" >Oct 7</text>
<text x="550.8" y="628.7" font-size="9.9" fill="#22272b" stroke="#22272b" stroke-width="0.45" text-anchor="middle" >Oct 14</text>
<text x="628.2" y="628.7" font-size="9.9" fill="#22272b" stroke="#22272b" stroke-width="0.45" text-anchor="middle" >Oct 21</text>
<text x="705" y="628.7" font-size="9.9" fill="#22272b" stroke="#22272b" stroke-width="0.45" text-anchor="middle" >Oct 28</text>
<text x="780.8" y="628.7" font-size="9.9" fill="#22272b" stroke="#22272b" stroke-width="0.45" text-anchor="middle" >Nov 4</text>
<text x="856.4" y="628.7" font-size="9.9" fill="#22272b" stroke="#22272b" stroke-width="0.45" text-anchor="middle" >Nov 11</text>
<text x="934.3" y="628.7" font-size="9.9" fill="#22272b" stroke="#22272b" stroke-width="0.45" text-anchor="middle" >Nov 18</text>
<text x="1013.7" y="628.7" font-size="9.9" fill="#22272b" stroke="#22272b" stroke-width="0.45" text-anchor="middle" >Nov 25</text>
<text x="1090" y="628.7" font-size="9.9" fill="#22272b" stroke="#22272b" stroke-width="0.45" text-anchor="middle" >Dec 2</text>
<circle cx="459.4" cy="651.7" r="3.1" fill="#bfe0d4"/>
<text x="466.1" y="655.6" font-size="10.3" fill="#1f2428" stroke="#1f2428" stroke-width="0.3" textLength="142.4" lengthAdjust="spacing" >Collections Effectiveness Index</text>
<circle cx="628.1" cy="651.7" r="3.1" fill="#c48dfb"/>
<text x="635.1" y="655.6" font-size="10.1" fill="#1f2428" stroke="#1f2428" stroke-width="0.3" textLength="76.3" lengthAdjust="spacing" >Amount Overdue</text>
</svg>
</body></html>
